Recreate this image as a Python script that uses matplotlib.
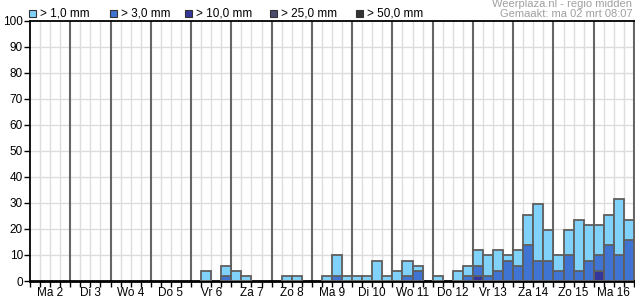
import numpy as np
import matplotlib
matplotlib.use('Agg')
import matplotlib.pyplot as plt
from matplotlib.patches import Rectangle

plt.rcParams['font.family'] = ['Liberation Sans', 'DejaVu Sans']

# Day labels (4 periods of 6 hours per day)
days = ['Ma 2', 'Di 3', 'Wo 4', 'Do 5', 'Vr 6', 'Za 7', 'Zo 8', 'Ma 9',
        'Di 10', 'Wo 11', 'Do 12', 'Vr 13', 'Za 14', 'Zo 15', 'Ma 16']
n_bars = len(days) * 4

# Probability (%) per 6h period, {period index: value}
p_gt1 = {17: 3.9, 19: 5.9, 20: 3.9, 21: 2.0, 25: 2.0, 26: 2.0, 29: 2.0,
         30: 9.8, 31: 2.0, 32: 2.0, 33: 2.0, 34: 7.8, 35: 2.0, 36: 3.9,
         37: 7.8, 38: 5.9, 40: 2.0, 42: 3.9, 43: 5.9, 44: 11.8, 45: 9.8,
         46: 11.8, 47: 9.8, 48: 11.8, 49: 25.5, 50: 29.4, 51: 19.6,
         52: 9.8, 53: 19.6, 54: 23.5, 55: 21.6, 56: 21.6, 57: 25.5,
         58: 31.4, 59: 23.5}
p_gt3 = {19: 2.0, 30: 2.0, 37: 2.0, 38: 3.9, 43: 2.0, 44: 5.9, 45: 2.0,
         46: 3.9, 47: 7.8, 48: 5.9, 49: 13.7, 50: 7.8, 51: 7.8, 52: 3.9,
         53: 9.8, 54: 3.9, 55: 7.8, 56: 9.8, 57: 13.7, 58: 9.8, 59: 15.7}
p_gt10 = {44: 2.0, 56: 3.9}
p_gt25 = {}
p_gt50 = {}

labels = ['> 1,0 mm', '> 3,0 mm', '> 10,0 mm', '> 25,0 mm', '> 50,0 mm']
colors = ['#80d2fa', '#3f74d2', '#35369c', '#4b4b6e', '#333333']
series = [p_gt1, p_gt3, p_gt10, p_gt25, p_gt50]

W, H = 635, 300
fig = plt.figure(figsize=(W / 100, H / 100), dpi=100)
ax = fig.add_axes([30 / W, 19 / H, 604 / W, 260.5 / H])

ax.set_xlim(0, n_bars)
ax.set_ylim(0, 100)

# grid: light 6h lines, dark day lines, horizontal every 10
for i in range(1, n_bars):
    if i % 4 == 0:
        ax.axvline(i, color='#666666', lw=1.5, zorder=1)
    else:
        ax.axvline(i, color='#dddddd', lw=1, zorder=0.5)
for y in range(10, 100, 10):
    ax.axhline(y, color='#dddddd', lw=1, zorder=0.5)

# bars are drawn on top of each other, all starting from 0
for vals, col in zip(series, colors):
    if not vals:
        continue
    idx = np.array(sorted(vals))
    h = np.array([vals[k] for k in idx])
    ax.bar(idx + 0.5, h, width=1.0, color=col, edgecolor='#5e5e5e',
           linewidth=1.3, zorder=3)

# axes styling
ax.set_yticks(range(0, 101, 10))
ax.tick_params(axis='y', labelsize=8.5, length=4, width=1, pad=1)

# day names as major labels (no tick mark), 6h tick marks as minor ticks
ax.xaxis.remove_overlapping_locs = False
ax.set_xticks(np.arange(2, n_bars, 4))
ax.set_xticklabels(days)
ax.tick_params(axis='x', which='major', length=0, labelsize=8.5, pad=4)
ax.set_xticks(range(0, n_bars + 1), minor=True)
ax.tick_params(axis='x', which='minor', length=4, width=1, direction='out')

for side in ['top', 'left']:
    ax.spines[side].set_linewidth(1.3)
ax.spines['bottom'].set_linewidth(2)
ax.spines['right'].set_color('#666666')
ax.spines['right'].set_linewidth(1.5)

# legend at the top
leg_x = [29, 110, 185, 270, 356]
for x, lab, col in zip(leg_x, labels, colors):
    fig.add_artist(Rectangle((x / W, (H - 17) / H), 7 / W, 7 / H,
                             facecolor=col, edgecolor='#333333', lw=0.8,
                             transform=fig.transFigure))
    fig.text((x + 11) / W, (H - 13.5) / H, lab, fontsize=8.5,
             va='center', ha='left')

fig.text(632 / W, (H - 4) / H, 'Weerplaza.nl - regio midden', fontsize=8,
         color='#a0a0a0', ha='right', va='center')
fig.text(632 / W, (H - 14) / H, 'Gemaakt: ma 02 mrt 08:07', fontsize=8,
         color='#a0a0a0', ha='right', va='center')

fig.savefig('out.png', dpi=100)
